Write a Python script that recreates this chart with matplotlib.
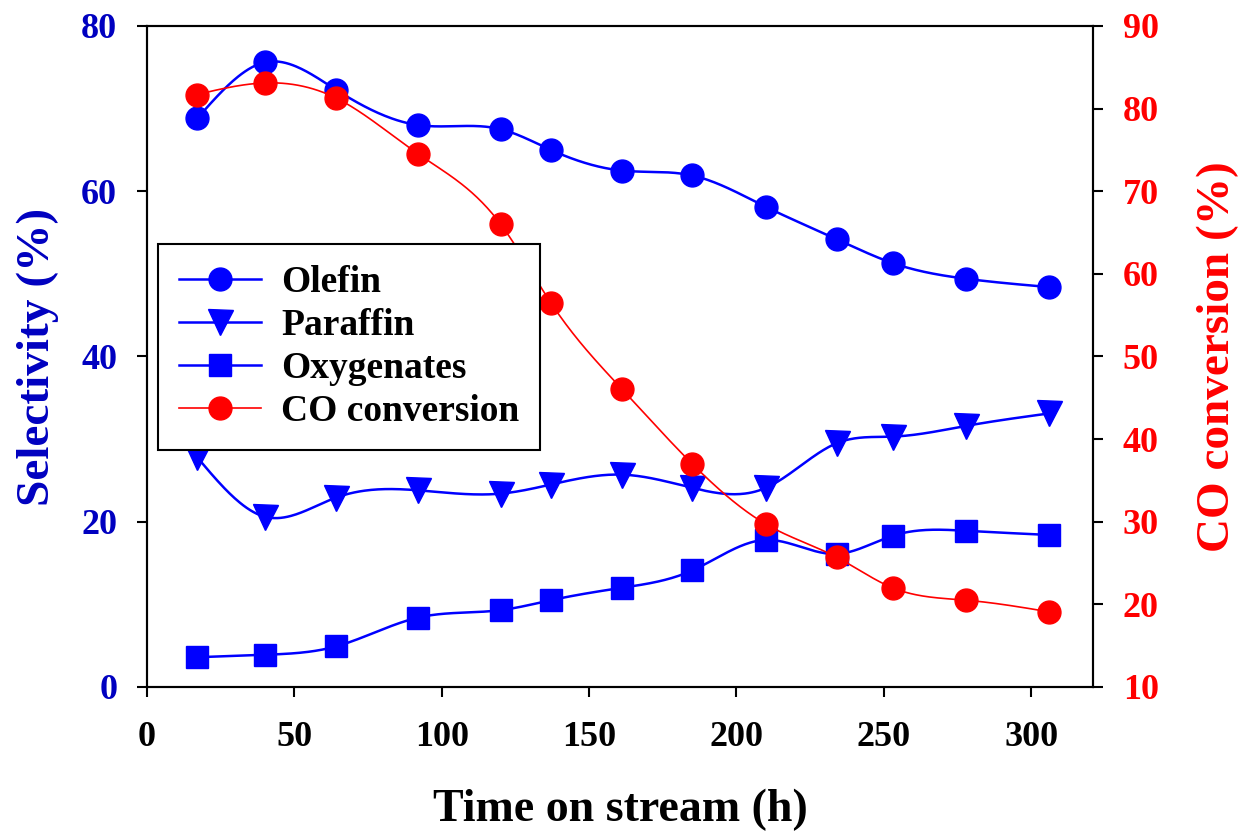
import numpy as np
import matplotlib
matplotlib.use("Agg")
import matplotlib.pyplot as plt
from matplotlib.lines import Line2D

# time on stream (h)
time_h = [17, 40, 64, 92, 120, 137, 161, 185, 210, 234, 253, 278, 306]

# selectivity (%)
olefin = [68.8, 75.6, 72.3, 68.0, 67.5, 65.0, 62.5, 61.9, 58.1, 54.2, 51.3, 49.4, 48.4]
paraffin = [27.8, 20.6, 22.9, 23.8, 23.4, 24.5, 25.7, 24.1, 24.1, 29.5, 30.3, 31.6, 33.1]
oxygenates = [3.6, 3.9, 4.9, 8.4, 9.3, 10.5, 12.0, 14.1, 17.8, 16.1, 18.3, 18.9, 18.4]

# CO conversion (%)
co_conv = [81.7, 83.1, 81.3, 74.5, 66.0, 56.5, 46.1, 37.0, 29.7, 25.7, 22.0, 20.5, 19.1]

BLUE = "#0000ff"
RED = "#ff0000"
DARKBLUE = "#0000c0"


def spline(x, y, n=500):
    '''natural cubic spline through the points, just for the drawn curve'''
    x = np.asarray(x, float)
    y = np.asarray(y, float)
    k = len(x)
    h = np.diff(x)
    A = np.zeros((k, k))
    b = np.zeros(k)
    A[0, 0] = A[-1, -1] = 1.0
    for i in range(1, k - 1):
        A[i, i - 1] = h[i - 1]
        A[i, i] = 2 * (h[i - 1] + h[i])
        A[i, i + 1] = h[i]
        b[i] = 6 * ((y[i + 1] - y[i]) / h[i] - (y[i] - y[i - 1]) / h[i - 1])
    M = np.linalg.solve(A, b)
    xs = np.linspace(x[0], x[-1], n)
    j = np.clip(np.searchsorted(x, xs) - 1, 0, k - 2)
    t1 = x[j + 1] - xs
    t0 = xs - x[j]
    ys = (M[j] * t1 ** 3 + M[j + 1] * t0 ** 3) / (6 * h[j]) \
        + (y[j] / h[j] - M[j] * h[j] / 6) * t1 \
        + (y[j + 1] / h[j] - M[j + 1] * h[j] / 6) * t0
    return xs, ys


plt.rcParams['font.family'] = ['Liberation Serif', 'DejaVu Serif']
plt.rcParams['font.weight'] = 'bold'

fig = plt.figure(figsize=(12.39, 8.31), dpi=100)
ax = fig.add_axes([0.1187, 0.1733, 0.7635, 0.7955])
ax2 = ax.twinx()

ms = 16.5
sizes = {"o": ms, "v": 18, "s": ms}
for vals, mk in [(olefin, "o"), (paraffin, "v"), (oxygenates, "s")]:
    xs, ys = spline(time_h, vals)
    ax.plot(xs, ys, color=BLUE, lw=1.8, zorder=2)
    ax.plot(time_h, vals, ls="none", marker=mk, ms=sizes[mk], color=BLUE,
            mec=BLUE, zorder=3)

xs, ys = spline(time_h, co_conv)
ax2.plot(xs, ys, color=RED, lw=1.2, zorder=2)
ax2.plot(time_h, co_conv, ls="none", marker="o", ms=ms, color=RED,
         mec=RED, zorder=3)

ax.set_xlim(0, 321)
ax.set_ylim(0, 80)
ax2.set_ylim(10, 90)
ax.set_xticks([0, 50, 100, 150, 200, 250, 300])
ax.set_yticks([0, 20, 40, 60, 80])
ax2.set_yticks(range(10, 91, 10))

for a in (ax, ax2):
    a.tick_params(direction="out", length=7.5, width=1.5, labelsize=26, pad=14)
    for s in a.spines.values():
        s.set_linewidth(1.5)
ax.tick_params(axis="y", labelcolor=DARKBLUE)
ax2.tick_params(axis="y", labelcolor=RED)
ax.tick_params(axis="x", pad=17)

ax.set_xlabel("Time on stream (h)", fontsize=33, fontweight="bold", labelpad=25)
ax.set_ylabel("Selectivity (%)", fontsize=34, fontweight="bold",
              color=DARKBLUE, labelpad=16)
ax2.set_ylabel("CO conversion (%)", fontsize=34, fontweight="bold",
               color=RED, labelpad=27)

handles = [
    Line2D([], [], color=BLUE, lw=1.8, marker="o", ms=ms),
    Line2D([], [], color=BLUE, lw=1.8, marker="v", ms=18),
    Line2D([], [], color=BLUE, lw=1.8, marker="s", ms=ms),
    Line2D([], [], color=RED, lw=1.2, marker="o", ms=ms),
]
labels = ["Olefin", "Paraffin", "Oxygenates", "CO conversion"]
leg = ax2.legend(handles, labels, loc="upper left", bbox_to_anchor=(0.0116, 0.67),
                 borderaxespad=0, fontsize=27, frameon=True, fancybox=False,
                 edgecolor="black", framealpha=1, handlelength=2.2,
                 handletextpad=0.53, labelspacing=0.22, borderpad=0.55)
leg.get_frame().set_linewidth(1.5)

fig.savefig("out.png", dpi=100)
